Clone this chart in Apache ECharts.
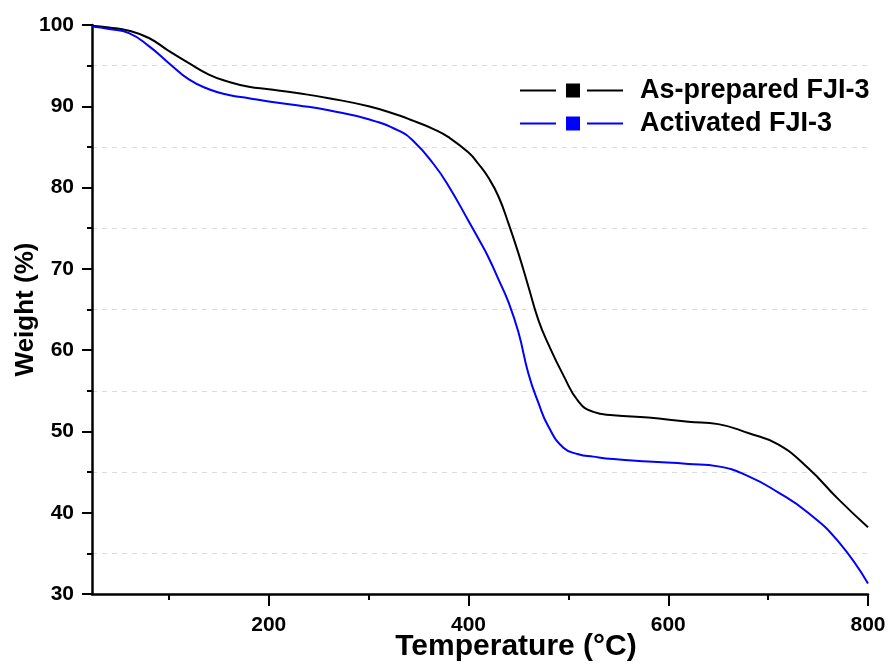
<!DOCTYPE html>
<html>
<head>
<meta charset="utf-8">
<script src="https://cdn.jsdelivr.net/npm/echarts@6/dist/echarts.min.js"></script>
<style>
  html, body { margin: 0; padding: 0; background: #fff; }
  #chart { width: 893px; height: 672px; }
</style>
</head>
<body>
<div id="chart"></div>
<script>
// TGA curves, values
const temperature = [23, 40, 60, 80, 100, 120, 140, 160, 180, 200, 230, 260, 300, 330, 345, 365, 380, 400, 410, 420, 430, 440, 450, 460, 470, 480, 495, 510, 525, 545, 580, 620, 650, 680, 710, 740, 770, 800];
const asPrepared = [99.9, 99.7, 99.3, 98.4, 96.8, 95.3, 93.9, 93.0, 92.4, 92.1, 91.6, 91.0, 90.0, 88.9, 88.2, 87.2, 86.2, 84.3, 82.9, 81.2, 78.9, 75.6, 71.9, 67.8, 63.7, 60.7, 56.9, 53.7, 52.4, 52.0, 51.7, 51.2, 50.9, 49.8, 48.4, 45.5, 41.7, 38.2];
const activated = [99.8, 99.5, 99.0, 97.4, 95.3, 93.3, 92.1, 91.4, 91.0, 90.6, 90.1, 89.5, 88.4, 87.0, 85.7, 82.9, 80.2, 75.9, 73.7, 71.4, 68.7, 65.9, 62.2, 57.1, 53.5, 50.6, 48.0, 47.2, 46.9, 46.6, 46.3, 46.0, 45.7, 44.5, 42.5, 40.0, 36.5, 31.3];
const seriesNames = ['As-prepared FJI-3', 'Activated FJI-3'];
const xMajorTicks = [200, 400, 600, 800];
const xMinorTicks = [100, 300, 500, 700];

const FONT = 'Liberation Sans, Arial, sans-serif';
// line - square - line legend mark
const LEGEND_ICON = 'path://M0,6L36,6L36,8L0,8Z M46,0L60,0L60,14L46,14Z M67,6L103,6L103,8L67,8Z';

function pairs(xs, ys) {
  return xs.map((x, i) => [x, ys[i]]);
}

const myChart = echarts.init(document.getElementById('chart'));

myChart.setOption({
  backgroundColor: '#fff',
  animation: false,
  grid: {
    left: 92,
    right: 25,
    top: 25,
    bottom: 78,
    outerBoundsMode: 'none'
  },
  legend: {
    orient: 'vertical',
    left: 520,
    top: 77,
    padding: 0,
    itemWidth: 103,
    itemHeight: 14,
    itemGap: 6,
    icon: LEGEND_ICON,
    itemStyle: { borderWidth: 0 },
    textStyle: {
      fontFamily: FONT,
      fontWeight: 'bold',
      fontSize: 27,
      lineHeight: 27,
      color: '#000',
      padding: [0, 0, 0, 12]
    },
    data: seriesNames
  },
  xAxis: [
    {
      type: 'value',
      position: 'bottom',
      min: 23,
      max: 800,
      name: 'Temperature (°C)',
      nameLocation: 'middle',
      nameGap: 38,
      nameMoveOverlap: false,
      nameTextStyle: {
        fontFamily: FONT,
        fontWeight: 'bold',
        fontSize: 30,
        lineHeight: 30,
        color: '#000',
        padding: [0, 0, 0, 72]
      },
      axisLine: { lineStyle: { color: '#000', width: 2.5 } },
      axisTick: {
        length: 12,
        customValues: xMajorTicks,
        lineStyle: { color: '#000', width: 2 }
      },
      axisLabel: {
        customValues: xMajorTicks,
        margin: 21,
        fontFamily: FONT,
        fontWeight: 'bold',
        fontSize: 21,
        color: '#000'
      },
      splitLine: { show: false }
    },
    {
      type: 'value',
      position: 'bottom',
      min: 23,
      max: 800,
      axisLine: { show: false },
      axisTick: {
        length: 6,
        customValues: xMinorTicks,
        lineStyle: { color: '#000', width: 2 }
      },
      axisLabel: { show: false },
      splitLine: { show: false }
    }
  ],
  yAxis: {
    type: 'value',
    min: 30,
    max: 100,
    interval: 10,
    name: 'Weight (%)',
    nameLocation: 'middle',
    nameGap: 53,
    nameMoveOverlap: false,
    nameTextStyle: {
      fontFamily: FONT,
      fontWeight: 'bold',
      fontSize: 26,
      color: '#000'
    },
    axisLine: { show: true, lineStyle: { color: '#000', width: 2.5 } },
    axisTick: { show: true, length: 10, lineStyle: { color: '#000', width: 2 } },
    minorTick: { show: true, splitNumber: 2, length: 5, lineStyle: { color: '#000', width: 2 } },
    axisLabel: {
      margin: 18,
      fontFamily: FONT,
      fontWeight: 'bold',
      fontSize: 21,
      color: '#000'
    },
    splitLine: { show: false },
    minorSplitLine: {
      show: true,
      lineStyle: { color: '#dcdcdc', type: [5, 5], width: 1 }
    }
  },
  series: [
    {
      name: seriesNames[0],
      type: 'line',
      data: pairs(temperature, asPrepared),
      smooth: 0.5,
      showSymbol: false,
      symbol: 'rect',
      color: '#000000',
      lineStyle: { color: '#000000', width: 2 }
    },
    {
      name: seriesNames[1],
      type: 'line',
      data: pairs(temperature, activated),
      smooth: 0.5,
      showSymbol: false,
      symbol: 'rect',
      color: '#0000ff',
      lineStyle: { color: '#0000ff', width: 2 }
    }
  ]
});
</script>
</body>
</html>
